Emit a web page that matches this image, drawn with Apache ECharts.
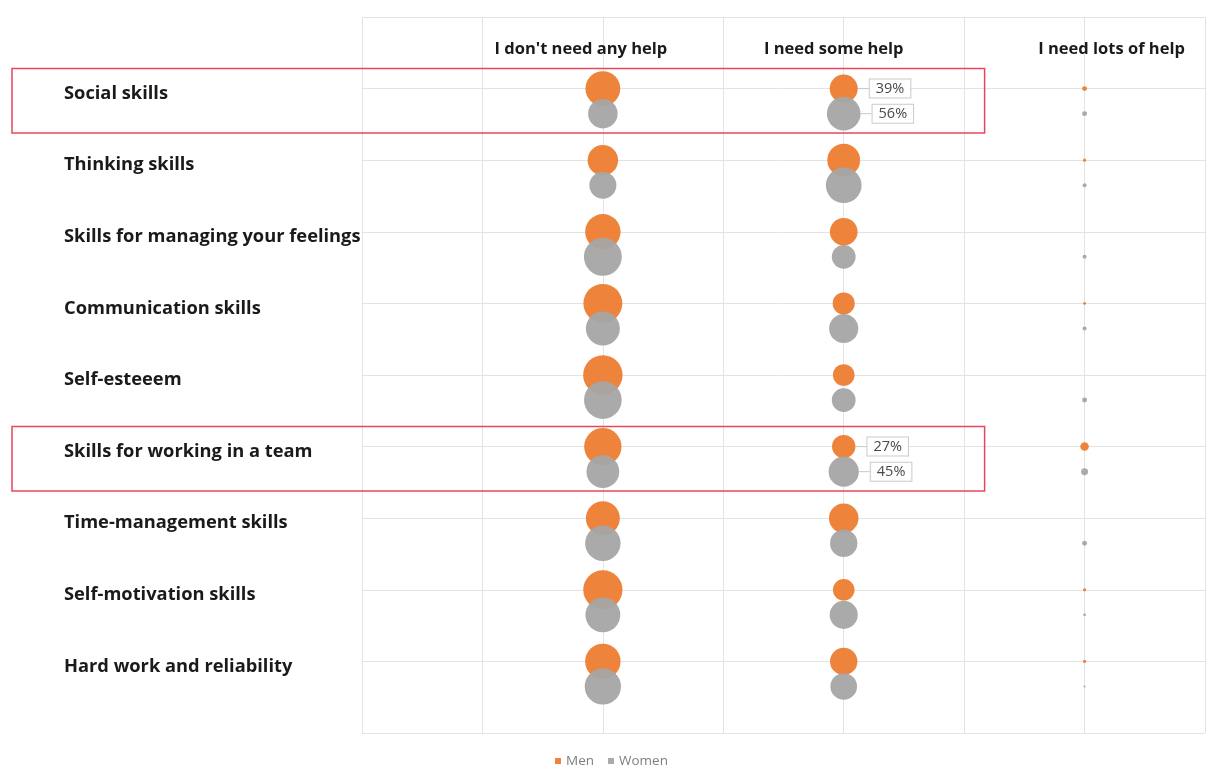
<!DOCTYPE html>
<html>
<head>
<meta charset="utf-8">
<script src="https://cdn.jsdelivr.net/npm/echarts@6/dist/echarts.min.js"></script>
<style>html,body{margin:0;padding:0;background:#fff}#c{width:1208px;height:778px}</style>
</head>
<body>
<div id="c"></div>
<script>
// ---- data ----
const categories = [
  "Social skills",
  "Thinking skills",
  "Skills for managing your feelings",
  "Communication skills",
  "Self-esteeem",
  "Skills for working in a team",
  "Time-management skills",
  "Self-motivation skills",
  "Hard work and reliability"
];
const columns = ["I don't need any help", "I need some help", "I need lots of help"];
// percentages per row: [no help, some help, lots of help]
const menValues = [
  [60, 39, 1.2],
  [46, 53, 0.5],
  [62, 38, 0],
  [75, 24, 0.4],
  [77, 23, 0],
  [69, 27, 3.6],
  [57, 43, 0],
  [76, 23, 0.5],
  [62, 37, 0.5]
];
const womenValues = [
  [43, 56, 1.2],
  [36, 63, 0.8],
  [71, 28, 0.8],
  [57, 42, 0.8],
  [70, 28, 1.2],
  [53, 45, 2.4],
  [62, 37, 1.2],
  [60, 39, 0.4],
  [65, 35, 0.2]
];
const labelledRows = ["Social skills", "Skills for working in a team"];
const labelledColumn = "I need some help";
const seriesNames = ["Men", "Women"];

// ---- build ----
const nRows = categories.length;
const rowY = i => nRows - i;          // Social skills at top
const womenOffset = 0.35;

function build(values, offset) {
  const out = [];
  values.forEach((row, i) => {
    row.forEach((v, j) => {
      const item = { value: [j + 1, rowY(i) - offset, v] };
      if (labelledRows.includes(categories[i]) && columns[j] === labelledColumn) {
        item.label = { show: true };
        item.labelLine = { show: true };
      }
      out.push(item);
    });
  });
  return out;
}

const labelStyle = {
  show: false,
  position: 'right',
  distance: 4,
  formatter: p => p.value[2] + '%',
  color: '#404040',
  fontFamily: 'Open Sans',
  fontSize: 14.5,
  backgroundColor: '#fff',
  borderColor: '#c8c8c8',
  borderWidth: 1,
  padding: [2, 6, 1, 6]
};
const labelLineStyle = { show: false, length2: 0, lineStyle: { color: '#c8c8c8', width: 1 } };

const headerRich = {
  h0: { padding: [0, 44, 0, 0] },
  h1: { padding: [0, 20, 0, 0] },
  h2: { padding: [0, 0, 0, 54] }
};
Object.values(headerRich).forEach(s => Object.assign(s, {
  fontFamily: 'Open Sans', fontWeight: 'bold', fontSize: 16.5, color: '#1a1a1a'
}));

const chart = echarts.init(document.getElementById('c'), null, { renderer: 'canvas' });
chart.setOption({
  animation: false,
  backgroundColor: '#fff',
  grid: { left: 362, right: 3, top: 17, bottom: 45 },
  legend: {
    data: seriesNames,
    bottom: 5,
    left: 550,
    icon: 'rect',
    itemWidth: 6,
    itemHeight: 6,
    itemGap: 14,
    textStyle: { color: '#7f7f7f', fontSize: 13.5, fontFamily: 'Open Sans' }
  },
  xAxis: {
    type: 'value',
    position: 'top',
    min: 0, max: 3.5, interval: 0.5,
    axisLine: { show: false },
    axisTick: { show: false },
    splitLine: { show: true, lineStyle: { color: '#e3e3e3', width: 1 } },
    axisLabel: {
      inside: true,
      margin: 24,
      verticalAlign: 'top',
      rich: headerRich,
      formatter: v => (Number.isInteger(v) && v >= 1 && v <= columns.length)
        ? '{h' + (v - 1) + '|' + columns[v - 1] + '}' : ''
    }
  },
  yAxis: {
    type: 'value',
    min: 0, max: nRows + 1, interval: 1,
    axisLine: { show: false },
    axisTick: { show: false },
    splitLine: { show: true, lineStyle: { color: '#e3e3e3', width: 1 } },
    axisLabel: {
      margin: 298,
      align: 'left',
      rich: {
        c: {
          padding: [10, 0, 0, 0],
          fontFamily: 'Open Sans',
          fontWeight: 'bold',
          fontSize: 18.3,
          color: '#1a1a1a'
        }
      },
      formatter: v => (v >= 1 && v <= nRows) ? '{c|' + categories[nRows - v] + '}' : ''
    }
  },
  series: [
    {
      name: seriesNames[0],
      type: 'scatter',
      symbolSize: val => 4.5 * Math.sqrt(val[2]),
      itemStyle: { color: '#ED7D31', opacity: 0.95 },
      label: labelStyle,
      labelLine: labelLineStyle,
      labelLayout: { dx: 8 },
      data: build(menValues, 0),
      z: 2
    },
    {
      name: seriesNames[1],
      type: 'scatter',
      symbolSize: val => 4.5 * Math.sqrt(val[2]),
      itemStyle: { color: '#A5A5A5', opacity: 0.95 },
      label: labelStyle,
      labelLine: labelLineStyle,
      labelLayout: { dx: 8 },
      data: build(womenValues, womenOffset),
      z: 3
    }
  ]
});

// red highlight boxes around the labelled rows
const boxes = labelledRows.map(name => {
  const r = rowY(categories.indexOf(name));
  const tl = chart.convertToPixel({ gridIndex: 0 }, [2.585, r + 0.28]);
  const br = chart.convertToPixel({ gridIndex: 0 }, [2.585, r - 0.62]);
  return {
    type: 'rect',
    shape: { x: 12, y: tl[1], width: tl[0] - 12, height: br[1] - tl[1] },
    style: { fill: 'none', stroke: '#E8475B', lineWidth: 1.5 },
    z: 100
  };
});
chart.setOption({ graphic: boxes });
</script>
</body>
</html>
